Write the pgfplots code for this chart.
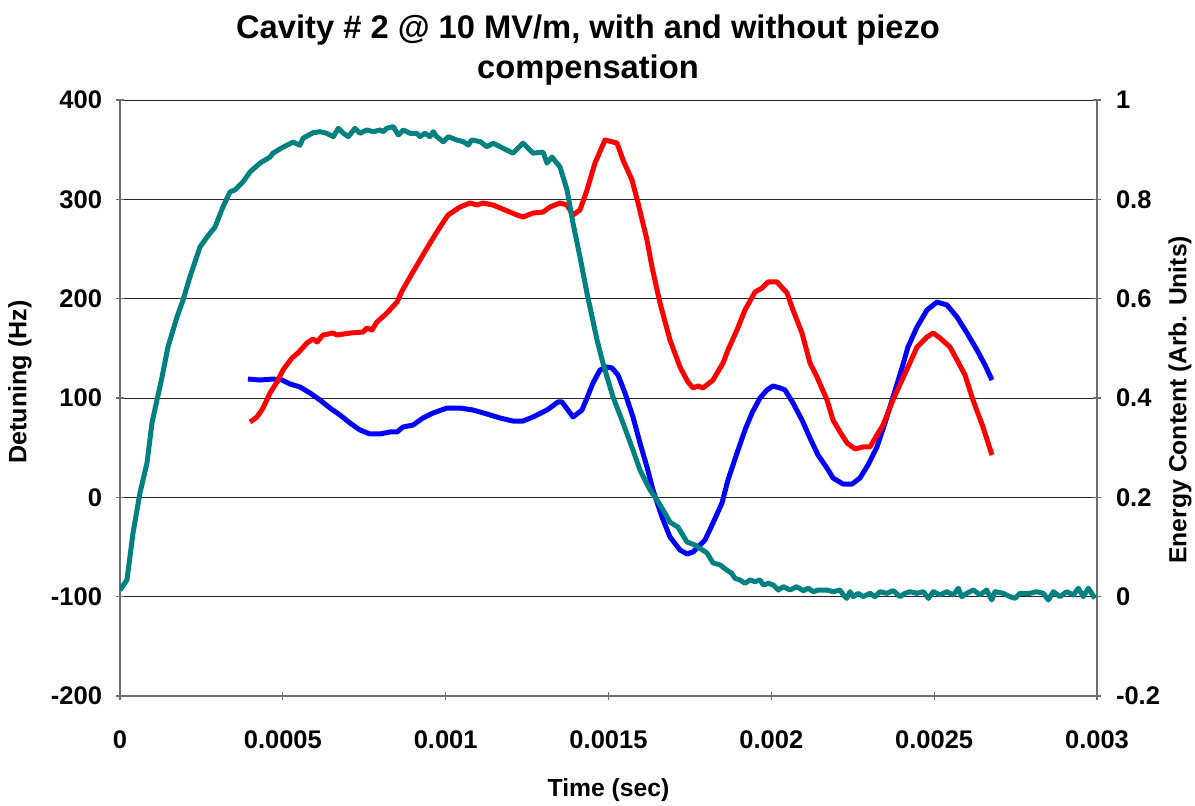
\documentclass[border=0pt]{standalone}
\usepackage{fontspec}
\setmainfont{Liberation Sans}
\usepackage{pgfplots}
\pgfplotsset{compat=1.18}
\definecolor{teal1}{RGB}{0,128,128}
\definecolor{gridc}{RGB}{40,40,40}
\definecolor{axc}{RGB}{110,110,110}

\begin{document}
\begin{tikzpicture}
\path[use as bounding box] (-60bp,-55bp) rectangle (537.5bp,348bp);
\pgfplotsset{
  every axis/.append style={
    scale only axis, width=488.5bp, height=298bp,
    xmin=0, xmax=0.003,
    /pgf/number format/assume math mode=true,
    tick label style={font=\fontsize{12.8}{15}\selectfont\bfseries},
    tick style={axc, line width=0.6bp},
    tick align=outside, major tick length=4bp,
    axis line style={axc, line width=0.7bp},
  }
}
\begin{axis}[
  axis x line=bottom, axis y line=left,
  x axis line style={-}, y axis line style={-},
  ymin=-200, ymax=400, ytick={-200,-100,0,100,200,300,400},
  yticklabels={-200,-100,0,100,200,300,400},
  xtick={0,0.0005,0.001,0.0015,0.002,0.0025,0.003},
  xticklabels={0,0.0005,0.001,0.0015,0.002,0.0025,0.003},
  scaled x ticks=false, scaled y ticks=false,
  xticklabel style={anchor=north, yshift=-12bp},
  yticklabel style={anchor=east, xshift=-3.5bp},
  ymajorgrids, grid style={gridc, line width=0.5bp},
  xlabel={Time (sec)}, ylabel={Detuning (Hz)},
  xlabel style={at={(axis description cs:0.5,0)}, anchor=center, yshift=-47bp,
    font=\fontsize{12.4}{15}\selectfont\bfseries},
  ylabel style={at={(axis description cs:-0.1024,0.527)}, anchor=center,
    font=\fontsize{12.6}{15}\selectfont\bfseries},
  title={Cavity \# 2 @ 10 MV/m, with and without piezo\\compensation},
  title style={at={(axis description cs:0.479,1)}, anchor=center, yshift=19bp,
    align=center, font=\fontsize{16.4}{20}\selectfont\bfseries},
]
% blue: with compensation
\addplot[blue, line width=2.5bp, line join=round] table {
3.930e-4 119.1
4.299e-4 118.1
4.698e-4 119.1
4.974e-4 118.1
5.220e-4 114.1
5.527e-4 111.1
5.834e-4 105.0
6.141e-4 98.0
6.448e-4 89.9
6.755e-4 82.9
7.062e-4 74.8
7.369e-4 67.8
7.677e-4 63.8
7.984e-4 63.8
8.291e-4 65.8
8.506e-4 65.8
8.690e-4 70.8
8.997e-4 72.8
9.304e-4 79.9
9.611e-4 84.9
1.0041e-3 89.9
1.0440e-3 89.9
1.0839e-3 87.9
1.1269e-3 83.9
1.1668e-3 79.9
1.2067e-3 76.8
1.2375e-3 76.8
1.2682e-3 80.9
1.3111e-3 87.9
1.3449e-3 96.0
1.3572e-3 96.0
1.3910e-3 80.9
1.4186e-3 87.9
1.4340e-3 100.0
1.4524e-3 115.1
1.4739e-3 128.2
1.4954e-3 131.2
1.5107e-3 130.2
1.5292e-3 123.2
1.5507e-3 105.0
1.5752e-3 80.9
1.5967e-3 54.7
1.6182e-3 30.5
1.6366e-3 7.4
1.6643e-3 -19.8
1.6888e-3 -39.9
1.7195e-3 -53.0
1.7410e-3 -57.0
1.7595e-3 -55.0
1.7963e-3 -43.0
1.8209e-3 -25.8
1.8485e-3 -5.7
1.8669e-3 17.5
1.8946e-3 44.6
1.9191e-3 67.8
1.9406e-3 84.9
1.9652e-3 100.0
1.9867e-3 108.1
2.0051e-3 112.1
2.0266e-3 110.1
2.0419e-3 108.1
2.0665e-3 95.0
2.0941e-3 77.9
2.1187e-3 59.7
2.1433e-3 42.6
2.1709e-3 29.5
2.1893e-3 19.5
2.2200e-3 13.4
2.2477e-3 13.4
2.2723e-3 19.5
2.2968e-3 32.6
2.3244e-3 50.7
2.3490e-3 74.8
2.3736e-3 101.0
2.4012e-3 130.2
2.4196e-3 151.3
2.4473e-3 171.5
2.4780e-3 188.6
2.5087e-3 196.6
2.5394e-3 193.6
2.5701e-3 181.5
2.6008e-3 165.4
2.6315e-3 148.3
2.6561e-3 133.2
2.6776e-3 118.1
};
% red: without compensation
\addplot[red, line width=2.5bp, line join=round] table {
3.992e-4 75.8
4.207e-4 80.9
4.391e-4 89.9
4.606e-4 105.0
4.821e-4 116.1
5.005e-4 128.2
5.281e-4 140.3
5.466e-4 145.3
5.742e-4 155.4
5.926e-4 159.4
6.049e-4 156.4
6.233e-4 163.4
6.540e-4 165.4
6.663e-4 163.4
7.062e-4 165.4
7.462e-4 166.4
7.584e-4 170.5
7.738e-4 168.5
7.891e-4 176.5
8.199e-4 185.6
8.506e-4 196.6
8.659e-4 207.7
8.905e-4 221.8
9.212e-4 238.9
9.519e-4 256.0
9.826e-4 272.1
1.0072e-3 284.2
1.0440e-3 292.3
1.0747e-3 296.3
1.0962e-3 294.3
1.1146e-3 296.3
1.1453e-3 294.3
1.1668e-3 291.3
1.1975e-3 287.2
1.2190e-3 284.2
1.2375e-3 282.2
1.2682e-3 286.2
1.2989e-3 287.2
1.3204e-3 292.3
1.3511e-3 296.3
1.3726e-3 294.3
1.3910e-3 284.2
1.4125e-3 289.3
1.4340e-3 309.4
1.4585e-3 336.6
1.4892e-3 359.7
1.5261e-3 356.7
1.5445e-3 339.6
1.5721e-3 319.5
1.5906e-3 296.3
1.6182e-3 259.1
1.6336e-3 231.9
1.6581e-3 195.6
1.6888e-3 158.4
1.7195e-3 131.2
1.7441e-3 116.1
1.7595e-3 110.1
1.7748e-3 112.1
1.7902e-3 110.1
1.8209e-3 118.1
1.8516e-3 135.2
1.8669e-3 148.3
1.8946e-3 168.5
1.9191e-3 188.6
1.9498e-3 206.7
1.9713e-3 210.7
1.9897e-3 216.8
2.0174e-3 216.8
2.0481e-3 205.7
2.0665e-3 188.6
2.0941e-3 165.4
2.1187e-3 135.2
2.1402e-3 121.1
2.1709e-3 98.0
2.1893e-3 77.9
2.2108e-3 65.8
2.2323e-3 54.7
2.2569e-3 48.7
2.2815e-3 50.7
2.3030e-3 50.7
2.3244e-3 62.8
2.3429e-3 72.8
2.3736e-3 98.0
2.4012e-3 118.1
2.4196e-3 131.2
2.4473e-3 151.3
2.4780e-3 161.4
2.4964e-3 165.4
2.5179e-3 160.4
2.5486e-3 151.3
2.5701e-3 138.3
2.5946e-3 123.2
2.6192e-3 98.0
2.6499e-3 70.8
2.6776e-3 42.6
};
\end{axis}
\begin{axis}[
  axis x line=none, axis y line=right,
  y axis line style={-},
  ymin=-0.2, ymax=1, ytick={-0.2,0,0.2,0.4,0.6,0.8,1},
  yticklabels={-0.2,0,0.2,0.4,0.6,0.8,1},
  scaled y ticks=false,
  yticklabel style={anchor=west, xshift=4bp},
  ylabel={Energy Content (Arb. Units)},
  ylabel style={at={(axis description cs:1.085,0.497)}, anchor=center,
    font=\fontsize{12.4}{15}\selectfont\bfseries},
]
\addplot[teal1, line width=2.5bp, line join=round] table {
0 0.013
2.15e-5 0.034
3.99e-5 0.128
6.14e-5 0.209
8.29e-5 0.269
9.83e-5 0.350
1.136e-4 0.396
1.29e-4 0.442
1.474e-4 0.503
1.75e-4 0.563
1.934e-4 0.597
2.149e-4 0.644
2.456e-4 0.704
2.671e-4 0.724
2.917e-4 0.744
3.163e-4 0.785
3.378e-4 0.815
3.531e-4 0.819
3.777e-4 0.835
3.992e-4 0.855
4.299e-4 0.873
4.606e-4 0.885
4.698e-4 0.893
5.005e-4 0.905
5.312e-4 0.915
5.527e-4 0.909
5.619e-4 0.923
5.926e-4 0.934
6.141e-4 0.9362
6.346e-4 0.933
6.551e-4 0.9261
6.704e-4 0.943
6.858e-4 0.933
7.011e-4 0.9261
7.216e-4 0.943
7.369e-4 0.933
7.575e-4 0.9396
7.779e-4 0.9362
7.984e-4 0.9396
8.086e-4 0.9362
8.190e-4 0.943
8.392e-4 0.9463
8.546e-4 0.9295
8.700e-4 0.9396
8.905e-4 0.933
9.110e-4 0.933
9.212e-4 0.9261
9.365e-4 0.933
9.519e-4 0.9261
9.621e-4 0.9362
9.725e-4 0.9261
9.928e-4 0.916
1.0081e-3 0.9261
1.0339e-3 0.9195
1.0542e-3 0.916
1.0695e-3 0.9094
1.0799e-3 0.9195
1.1068e-3 0.916
1.1260e-3 0.906
1.1465e-3 0.9128
1.1668e-3 0.906
1.2067e-3 0.893
1.2375e-3 0.913
1.2682e-3 0.893
1.2989e-3 0.895
1.3111e-3 0.873
1.3265e-3 0.885
1.3511e-3 0.865
1.3726e-3 0.819
1.3910e-3 0.752
1.4125e-3 0.684
1.4340e-3 0.611
1.4647e-3 0.517
1.4831e-3 0.470
1.5138e-3 0.402
1.5445e-3 0.350
1.5752e-3 0.295
1.5967e-3 0.255
1.6274e-3 0.215
1.6489e-3 0.195
1.6735e-3 0.168
1.6888e-3 0.150
1.7134e-3 0.140
1.7410e-3 0.110
1.7656e-3 0.104
1.8024e-3 0.088
1.8208e-3 0.068
1.8424e-3 0.064
1.8629e-3 0.0537
1.8782e-3 0.0470
1.8884e-3 0.0369
1.9038e-3 0.0336
1.9191e-3 0.0269
1.9345e-3 0.0336
1.9498e-3 0.0302
1.9652e-3 0.0336
1.9754e-3 0.0235
1.9907e-3 0.0269
2.0061e-3 0.0235
2.0214e-3 0.0134
2.0368e-3 0.0201
2.0573e-3 0.0134
2.0778e-3 0.0201
2.0982e-3 0.0121
2.1135e-3 0.0169
2.1289e-3 0.0100
2.1442e-3 0.0134
2.1699e-3 0.0134
2.1903e-3 0.0100
2.2108e-3 0.0134
2.2210e-3 0.0034
2.2313e-3 -0.0034
2.2415e-3 0.0100
2.2517e-3 0.0000
2.2671e-3 0.0067
2.2824e-3 0.0000
2.3030e-3 0.0067
2.3183e-3 0.0000
2.3337e-3 0.0100
2.3542e-3 0.0067
2.3746e-3 0.0120
2.3951e-3 0.0000
2.4104e-3 0.0067
2.4258e-3 0.0100
2.4463e-3 0.0067
2.4667e-3 0.0100
2.4821e-3 -0.0034
2.4974e-3 0.0100
2.5179e-3 0.0034
2.5384e-3 0.0100
2.5588e-3 0.0034
2.5741e-3 0.0169
2.5845e-3 0.0000
2.5999e-3 0.0067
2.6203e-3 0.0134
2.6407e-3 0.0034
2.6612e-3 0.0134
2.6766e-3 -0.0067
2.6868e-3 0.0100
2.7123e-3 0.0067
2.7328e-3 0.0000
2.7482e-3 -0.0034
2.7635e-3 0.0067
2.7942e-3 0.0067
2.8147e-3 0.0100
2.8352e-3 0.0067
2.8505e-3 -0.0067
2.8659e-3 0.0100
2.8864e-3 0.0000
2.9068e-3 0.0100
2.9273e-3 0.0034
2.9427e-3 0.0169
2.9580e-3 0.0000
2.9733e-3 0.0169
2.9939e-3 -0.0034
};
\end{axis}
\end{tikzpicture}
\end{document}
